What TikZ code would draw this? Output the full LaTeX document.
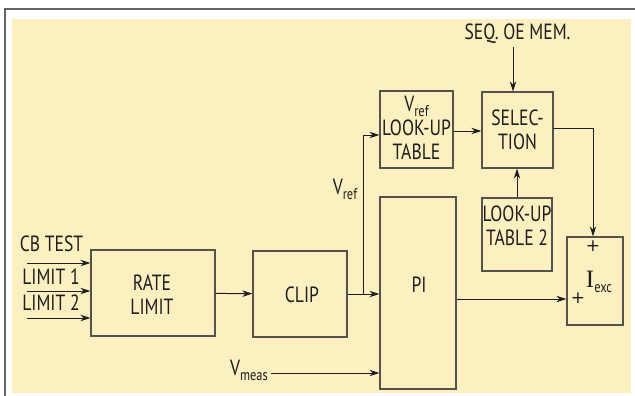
\documentclass[tikz,border=0pt]{standalone}
\usepackage{fontspec}
\setmainfont[FakeStretch=0.8]{PT Sans}
\newfontfamily\serifI{Liberation Serif}
\newfontfamily\plusfont{DejaVu Sans}
\usetikzlibrary{arrows.meta}
\definecolor{panel}{RGB}{252,239,192}
\definecolor{framegray}{RGB}{100,100,100}
\definecolor{boxline}{RGB}{85,82,75}
\definecolor{ink}{RGB}{30,30,30}
% lowered, smaller subscript text
\newcommand\lowsub[1]{\raisebox{-0.45ex}{\fontsize{15.5}{16}\selectfont #1}}
\tikzset{
  blk/.style={draw=boxline, line width=1.3pt, fill=panel, inner sep=0pt},
  txt/.style={inner sep=3pt, text=ink, font=\fontsize{22}{24}\selectfont, align=center},
  sign/.style={inner sep=0pt, text=ink, font=\plusfont\fontsize{17}{17}\selectfont},
  arr/.style={draw=ink, line width=1pt, -{Stealth[length=10pt,width=6.5pt]}}
}
\begin{document}
\begin{tikzpicture}[x=1pt,y=-1pt]
\useasboundingbox (0,0) rectangle (635,396);
% panel and frame
\fill[panel] (12,19) rectangle (631,393);
\draw[framegray, line width=2.2pt] (5,396) -- (5,9) -- (635,9);

% blocks
\node[blk, minimum width=124pt, minimum height=86pt] (rl)   at (153,293) {};
\node[blk, minimum width=94pt,  minimum height=86pt] (clip) at (300,294) {};
\node[blk, minimum width=76pt,  minimum height=192pt] (pi)  at (418,293) {};
\node[blk, minimum width=73pt,  minimum height=77pt] (vlut) at (416.5,129.5) {};
\node[blk, minimum width=71pt,  minimum height=76pt] (sel)  at (517.5,130) {};
\node[blk, minimum width=70pt,  minimum height=73pt] (lut2) at (517,234.5) {};
\node[blk, minimum width=56pt,  minimum height=88pt] (iexc) at (595,281) {};

% block texts
\node[txt] (rltxt)   at (152,294.5) {RATE\\LIMIT};
\node[txt] (cliptxt) at (302,294.5) {CLIP};
\node[txt] (pitxt)   at (419,285) {PI};
\node[txt] (vluttxt) at (416.5,128) {V\lowsub{ref}\\LOOK-UP\\TABLE};
\node[txt] (seltxt)  at (517.5,130) {SELEC-\\TION};
\node[txt] (lut2txt) at (517,226) {LOOK-UP\\TABLE 2};
\node[txt] (iexctxt) at (599,282) {{\serifI\fontsize{25}{25}\selectfont I}\lowsub{exc}};
\node[sign] (plustop)  at (593,246) {+};
\node[sign] (plusleft) at (578,298) {+};

% input labels
\node[txt] (cbtest) at (51.5,244) {CB TEST};
\node[txt] (lim1)   at (51,277) {LIMIT 1};
\node[txt] (lim2)   at (51,303) {LIMIT 2};
\node[txt] (vref)   at (345,189) {V\lowsub{ref}};
\node[txt] (vmeas)  at (249,370) {V\lowsub{meas}};
\node[txt] (seq)    at (517.5,34) {SEQ. OE MEM.};

% input arrows
\coordinate (in1) at (27,263);
\coordinate (in2) at (27,291);
\coordinate (in3) at (27,318);
\draw[arr] (in1) -- (in1 -| rl.west);
\draw[arr] (in2) -- (in2 -| rl.west);
\draw[arr] (in3) -- (in3 -| rl.west);

% signal path
\draw[arr] (rl) -- (clip);
\draw[arr] (clip.east) -- (clip.east -| pi.west);
\coordinate (br) at (363,294);
\draw[arr] (br) |- ([yshift=-5.5pt]vlut.west);
\draw[arr] ([yshift=-1.5pt]vlut.east) -- ([yshift=-1.5pt]vlut.east -| sel.west);
\draw[arr] ([xshift=-4.5pt]seq.south) -- ([xshift=-4.5pt]seq.south |- sel.north);
\draw[arr] (lut2.north) -- (lut2.north |- sel.south);
\draw[arr] ([yshift=2pt]sel.east) -| ([xshift=-2pt]iexc.north);
\draw[arr] ([yshift=-6pt]pi.east) -- ([yshift=-18pt]iexc.west);
\draw[arr] ([yshift=-3pt]vmeas.east) -- ([yshift=-3pt]vmeas.east -| pi.west);
\end{tikzpicture}
\end{document}
